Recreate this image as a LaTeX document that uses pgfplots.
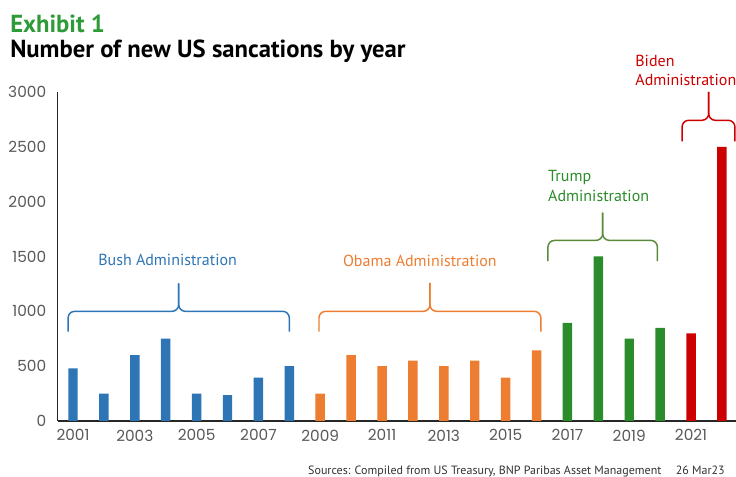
\documentclass[border=0pt]{standalone}
\usepackage{fontspec}
\usepackage{pgfplots}
\pgfplotsset{compat=1.18}
\setmainfont{PT Sans}
\newfontfamily\tickfont{Poppins}
\definecolor{bushc}{HTML}{2E75B6}
\definecolor{obamac}{HTML}{ED7D31}
\definecolor{trumpc}{HTML}{2A8C2A}
\definecolor{trumpb}{HTML}{5B8A3A}
\definecolor{bidenc}{HTML}{CC0000}
\definecolor{titlegreen}{HTML}{2E9B38}
\definecolor{tickgray}{HTML}{595959}
\newcommand{\mybrace}[7]{% color, x1, x2, xm, ybase, yend, ytip
  \draw[#1, line width=1.1pt, rounded corners=5pt] (axis cs:#2,#6) -- (axis cs:#2,#5) -- (axis cs:#4,#5) -- (axis cs:#4,#7);
  \draw[#1, line width=1.1pt, rounded corners=5pt] (axis cs:#3,#6) -- (axis cs:#3,#5) -- (axis cs:#4,#5) -- (axis cs:#4,#7);
}
\begin{document}
\begin{tikzpicture}
\useasboundingbox (0,0) rectangle (552pt,357.75pt);
\node[anchor=base west, font=\fontsize{18.5}{22}\selectfont\bfseries, text=titlegreen, inner sep=0pt] at (7.5pt,333pt) {Exhibit 1};
\node[anchor=base west, font=\fontsize{18.5}{22}\selectfont\bfseries, text=black, inner sep=0pt] at (7.5pt,314.25pt) {Number of new US sancations by year};
\node[anchor=base east, font=\fontsize{9}{11}\selectfont, text=black!80, inner sep=0pt] at (543.75pt,2pt) {Sources: Compiled from US Treasury, BNP Paribas Asset Management\hspace{1.2em}26 Mar23};
\begin{axis}[
  at={(43.16pt,42pt)}, anchor=south west,
  scale only axis, width=509.9pt, height=246.75pt,
  xmin=2000.5, xmax=2022.5, ymin=0, ymax=3000,
  axis x line=bottom, axis y line=left,
  axis line style={-, line width=0.8pt, black!85},
  xtick={2001,2003,...,2021}, ytick={0,500,...,3000},
  major tick length=0pt,
  tick label style={font=\tickfont\fontsize{11.5}{13}\selectfont, text=tickgray},
  /pgf/number format/assume math mode=true,
  /pgf/number format/set thousands separator={},
  yticklabel style={xshift=-5pt},
  xticklabel style={yshift=-3pt},
  clip=false,
]
\addplot[ybar, bar width=7.1pt, fill=bushc, draw=none] coordinates {
(2001,480) (2002,250) (2003,600) (2004,750) (2005,250) (2006,235) (2007,395) (2008,500)};
\addplot[ybar, bar width=7.1pt, fill=obamac, draw=none] coordinates {
(2009,250) (2010,600) (2011,500) (2012,550) (2013,500) (2014,550) (2015,395) (2016,645)};
\addplot[ybar, bar width=7.1pt, fill=trumpc, draw=none] coordinates {
(2017,895) (2018,1500) (2019,750) (2020,850)};
\addplot[ybar, bar width=7.1pt, fill=bidenc, draw=none] coordinates {
(2021,800) (2022,2500)};
\mybrace{bushc}{2000.84}{2008.0}{2004.42}{1000}{814}{1255}
\mybrace{obamac}{2008.96}{2016.14}{2012.55}{1000}{814}{1260}
\mybrace{trumpb}{2016.37}{2019.91}{2018.14}{1647}{1458}{1900}
\mybrace{bidenc}{2020.71}{2022.42}{2021.57}{2742}{2549}{3000}
\node[anchor=base west, inner sep=0pt, text=bushc, font=\fontsize{12}{14}\selectfont] at (axis cs:2001.81,1420) {Bush Administration};
\node[anchor=base west, inner sep=0pt, text=obamac, font=\fontsize{12}{14}\selectfont] at (axis cs:2009.73,1411) {Obama Administration};
\node[anchor=base west, inner sep=0pt, text=trumpc, font=\fontsize{12}{14}\selectfont] at (axis cs:2016.37,2183) {Trump};
\node[anchor=base west, inner sep=0pt, text=trumpc, font=\fontsize{12}{14}\selectfont] at (axis cs:2016.37,2000) {Administration};
\node[anchor=base west, inner sep=0pt, text=bidenc, font=\fontsize{12}{14}\selectfont] at (axis cs:2019.19,3228) {Biden};
\node[anchor=base west, inner sep=0pt, text=bidenc, font=\fontsize{12}{14}\selectfont] at (axis cs:2019.19,3055) {Administration};
\end{axis}
\end{tikzpicture}
\end{document}
